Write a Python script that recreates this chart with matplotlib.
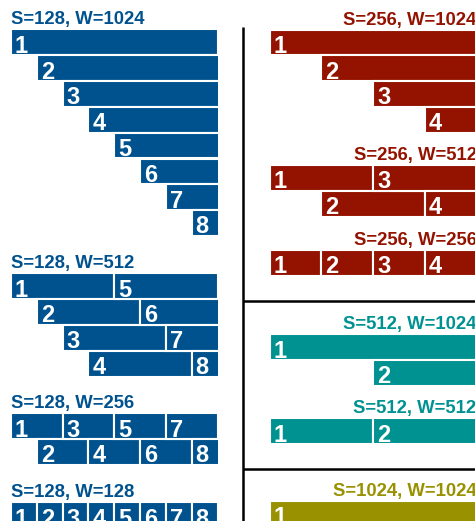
import matplotlib
matplotlib.use("Agg")
import matplotlib.pyplot as plt
from matplotlib.lines import Line2D

# ---- data ----
SEQ_LEN = 1024
left_stride = 128
left_windows = [1024, 512, 256, 128]
right_groups = [(256, [1024, 512, 256]), (512, [1024, 512]), (1024, [1024])]
stride_colors = {128: "#00528f", 256: "#941300", 512: "#009191", 1024: "#999100"}

# ---- layout (pixels) ----
W_PX, H_PX = 475, 521
PITCH = 25.8
LEFT_X = (11, 217.5)
RIGHT_X = (269.5, 476.5)
left_tops = [29.5, 273.3, 413.3, 502.3]
right_tops = [[29.5, 165.0, 250.0], [334.3, 418.3], [500.7]]
FONT = "Liberation Sans"

fig = plt.figure(figsize=(W_PX / 100, H_PX / 100), dpi=100)


def block(x0, x1, top, S, W, color, align):
    rows = W // S
    h = rows * PITCH
    ax = fig.add_axes([x0 / W_PX, 1 - (top + h) / H_PX, (x1 - x0) / W_PX, h / H_PX])
    ax.set_xlim(0, SEQ_LEN); ax.set_ylim(rows, 0)
    ax.axis("off")
    for i in range(SEQ_LEN // S):
        r = i % rows
        ax.barh(r + 0.5, W, left=i * S, height=1, color=color, edgecolor="white", lw=1.5)
        ax.annotate(str(i + 1), (i * S, r + 1), xytext=(4, 2.5), textcoords="offset pixels",
                    color="white", fontsize=17, fontweight="bold", family=FONT, va="baseline")
    tx = 0 if align == "left" else 1
    ax.annotate(f"S={S}, W={W}", (tx, 1), xycoords="axes fraction", xytext=(0, 5),
                textcoords="offset pixels", ha=align, va="baseline", color=color,
                fontsize=13.3, fontweight="bold", family=FONT, annotation_clip=False)


for W, top in zip(left_windows, left_tops):
    block(*LEFT_X, top, left_stride, W, stride_colors[left_stride], "left")

for (S, windows), tops in zip(right_groups, right_tops):
    for W, top in zip(windows, tops):
        block(*RIGHT_X, top, S, W, stride_colors[S], "right")
        
# separators
def px_line(xs, ys):
    fig.add_artist(Line2D([x / W_PX for x in xs], [1 - y / H_PX for y in ys],
                          color="black", lw=1.8, solid_capstyle="butt"))

px_line([243, 243], [27, H_PX])
px_line([243, W_PX], [301, 301])
px_line([243, W_PX], [469, 469])

fig.savefig("out.png", dpi=100)
